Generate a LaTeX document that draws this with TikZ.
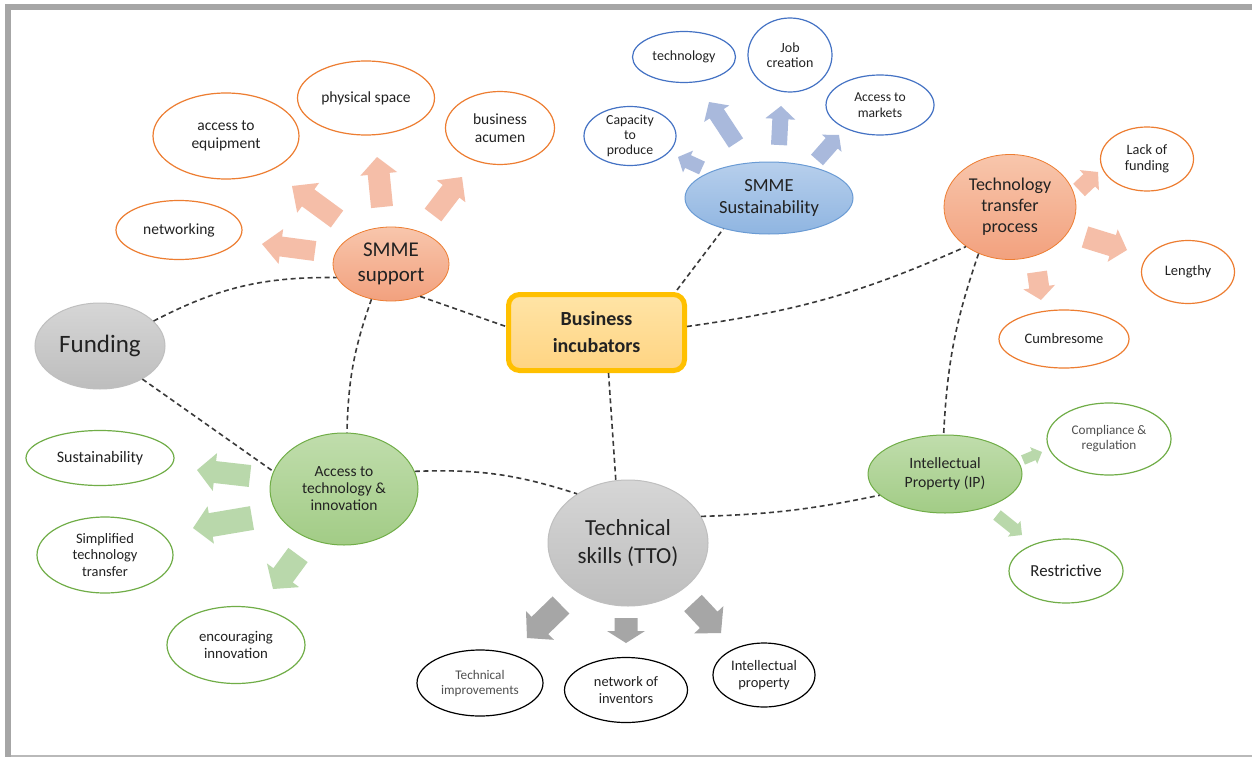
\documentclass[tikz,border=0pt]{standalone}
\usepackage{fontspec}
\setmainfont{Carlito}
\usetikzlibrary{shapes.geometric,calc}

\definecolor{txt}{HTML}{222222}
\definecolor{txtgray}{HTML}{505050}
\definecolor{dashc}{HTML}{3A3A3A}
\definecolor{framec}{HTML}{A6A6A6}
\definecolor{orn}{HTML}{ED7D31}
\definecolor{ornT}{HTML}{F8C6AC}
\definecolor{ornB}{HTML}{F2A17E}
\definecolor{ornarr}{HTML}{F5BEA8}
\definecolor{blu}{HTML}{4472C4}
\definecolor{bluB}{HTML}{6A9BD4}
\definecolor{bluFT}{HTML}{B7CFEC}
\definecolor{bluFB}{HTML}{8FB5E1}
\definecolor{bluarr}{HTML}{A9B9DC}
\definecolor{grn}{HTML}{70AD47}
\definecolor{grnT}{HTML}{C0DDAC}
\definecolor{grnB}{HTML}{A2CC86}
\definecolor{grnarr}{HTML}{B9D8AB}
\definecolor{gryB}{HTML}{BFBFBF}
\definecolor{gryT}{HTML}{D6D6D6}
\definecolor{gryF}{HTML}{BDBDBD}
\definecolor{gryarr}{HTML}{A6A6A6}
\definecolor{gold}{HTML}{FFC000}
\definecolor{goldT}{HTML}{FFE4A6}
\definecolor{goldB}{HTML}{FFD482}

\newcommand\fs[2]{\fontsize{#1pt}{#2pt}\selectfont}

% block arrow: name, colour, shaft half width, head half width, head length, tail, tip
\newcommand\blockarrow[7]{%
  \coordinate (#1-s) at (#6);
  \coordinate (#1-e) at (#7);
  \coordinate (#1-b) at ($(#1-e)!#5!(#1-s)$);
  \fill[#2] ($(#1-s)!#3!90:(#1-e)$) -- ($(#1-b)!#3!90:(#1-e)$) -- ($(#1-b)!#4!90:(#1-e)$)
    -- (#1-e) -- ($(#1-b)!#4!-90:(#1-e)$) -- ($(#1-b)!#3!-90:(#1-e)$)
    -- ($(#1-s)!#3!-90:(#1-e)$) -- cycle;}

\tikzset{
  base/.style={ellipse, inner sep=0pt, align=center, text=txt},
  oleaf/.style={base, draw=orn, line width=1.2pt, fill=white},
  bleaf/.style={base, draw=blu, line width=1.2pt, fill=white},
  gleaf/.style={base, draw=grn, line width=1.2pt, fill=white},
  kleaf/.style={base, draw=black, line width=1.2pt, fill=white},
  ohub/.style={base, draw=orn, line width=0.8pt, top color=ornT, bottom color=ornB},
  bhub/.style={base, draw=bluB, line width=1pt, top color=bluFT, bottom color=bluFB},
  ghub/.style={base, draw=grn, line width=1pt, top color=grnT, bottom color=grnB},
  khub/.style={base, draw=gryB, line width=1pt, top color=gryT, bottom color=gryF},
  conn/.style={draw=dashc, line width=1.6pt, dash pattern=on 5pt off 3.5pt},
}

\begin{document}
\begin{tikzpicture}[x=1pt, y=-1pt]
\useasboundingbox (0,0) rectangle (1252,757);
\fill[white] (0,0) rectangle (1252,757);

% frame
\fill[framec] (5,4) rectangle (1252,10);
\fill[framec] (5,4) rectangle (11,757);
\fill[gray!55] (11,754.5) rectangle (1252,757);

% ---------- nodes ----------
\node[rounded corners=11pt, draw=gold, line width=5pt, top color=goldT, bottom color=goldB,
      minimum width=176pt, minimum height=76pt, align=center, text=txt,
      font=\fs{20}{27}\bfseries] (bi) at (596.5,332.5) {Business\\incubators};

\node[ohub, minimum width=116pt, minimum height=74pt, font=\fs{21}{25}] (smme) at (391,264) {SMME\\support};
\node[oleaf, minimum width=126pt, minimum height=59pt, font=\fs{15.5}{18}] (net) at (179,230) {networking};
\node[oleaf, minimum width=146pt, minimum height=86pt, font=\fs{15.5}{18}] (equip) at (226,136) {access to\\equipment};
\node[oleaf, minimum width=137pt, minimum height=74pt, font=\fs{15.5}{18}] (space) at (366,98) {physical space};
\node[oleaf, minimum width=109pt, minimum height=73pt, font=\fs{15.5}{18}] (acumen) at (500,128) {business\\acumen};

\node[bhub, minimum width=168pt, minimum height=72pt, font=\fs{18.5}{22}] (sust) at (769,198) {SMME\\Sustainability};
\node[bleaf, minimum width=103pt, minimum height=51pt, font=\fs{14}{16}] (tech) at (684,57) {technology};
\node[bleaf, minimum width=84pt, minimum height=74pt, font=\fs{14}{15.5}] (job) at (790,55) {Job\\creation};
\node[bleaf, minimum width=108pt, minimum height=60pt, font=\fs{13.6}{15.5}] (mkt) at (880,105) {Access to\\markets};
\node[bleaf, minimum width=92pt, minimum height=58pt, font=\fs{13.8}{15}] (cap) at (630,136) {Capacity\\to\\produce};

\node[ohub, minimum width=132pt, minimum height=105pt, font=\fs{18}{21}] (ttp) at (1010,207) {Technology\\transfer\\process};
\node[oleaf, minimum width=93pt, minimum height=64pt, font=\fs{14.3}{16.5}] (lack) at (1147,159) {Lack of\\funding};
\node[oleaf, minimum width=93pt, minimum height=63pt, font=\fs{14.5}{17}] (lengthy) at (1188,272) {Lengthy};
\node[oleaf, minimum width=130pt, minimum height=58pt, font=\fs{14.5}{17}] (cumb) at (1064,339) {Cumbresome};

\node[khub, minimum width=160pt, minimum height=126pt, font=\fs{23}{28}] (ts) at (628,543) {Technical\\skills (TTO)};
\node[kleaf, minimum width=126pt, minimum height=66pt, font=\fs{13.2}{15}, text=txtgray] (timp) at (480,683) {Technical\\improvements};
\node[kleaf, minimum width=123pt, minimum height=65pt, font=\fs{14.4}{17}] (inv) at (626,690) {network of\\inventors};
\node[kleaf, minimum width=102pt, minimum height=64pt, font=\fs{14.5}{17}] (ipr) at (764,675) {Intellectual\\property};

\node[khub, minimum width=130pt, minimum height=86pt, font=\fs{25}{30}] (fund) at (100,346) {Funding};

\node[ghub, minimum width=148pt, minimum height=112pt, font=\fs{15.5}{17}] (acc) at (344,489) {Access to\\technology \&\\innovation};
\node[gleaf, minimum width=148pt, minimum height=55pt, font=\fs{16}{18}] (gsust) at (100,458) {Sustainability};
\node[gleaf, minimum width=136pt, minimum height=76pt, font=\fs{14.4}{16.5}] (simp) at (105,555) {Simplified\\technology\\transfer};
\node[gleaf, minimum width=138pt, minimum height=77pt, font=\fs{14.8}{17}] (enc) at (236,645) {encouraging\\innovation};

\node[ghub, minimum width=154pt, minimum height=78pt, font=\fs{15.7}{18.5}] (ip) at (945,474) {Intellectual\\Property (IP)};
\node[gleaf, minimum width=124pt, minimum height=72pt, font=\fs{13.2}{15}, text=txtgray] (comp) at (1109,439) {Compliance \&\\regulation};
\node[gleaf, minimum width=114pt, minimum height=64pt, font=\fs{16.8}{19}] (restr) at (1066,571) {Restrictive};

% ---------- block arrows ----------
\blockarrow{a1}{ornarr}{10pt}{17.5pt}{19pt}{315,251}{262,244}
\blockarrow{a2}{ornarr}{10.5pt}{18.5pt}{20pt}{337,219}{292,186}
\blockarrow{a3}{ornarr}{11pt}{18.5pt}{17pt}{382,207}{377,157}
\blockarrow{a4}{ornarr}{10.5pt}{18pt}{18pt}{433,215}{462,177}

\blockarrow{b1}{bluarr}{7pt}{12pt}{11pt}{702,168}{678,157}
\blockarrow{b2}{bluarr}{8.5pt}{15pt}{14pt}{736,143}{709,102}
\blockarrow{b3}{bluarr}{8pt}{15pt}{13pt}{779,145}{781,106}
\blockarrow{b4}{bluarr}{8pt}{13pt}{11pt}{817,160}{839,135}

\blockarrow{c1}{ornarr}{8.5pt}{14pt}{12pt}{1079,190}{1098,172}
\blockarrow{c2}{ornarr}{11pt}{17pt}{15pt}{1085,237}{1127,250}
\blockarrow{c3}{ornarr}{10pt}{16pt}{13pt}{1037,272}{1041,300}

\blockarrow{d1}{grnarr}{11pt}{19pt}{18pt}{250,476}{197,470}
\blockarrow{d2}{grnarr}{12pt}{19pt}{18pt}{252,518}{193,528}
\blockarrow{d3}{grnarr}{12pt}{20pt}{17pt}{298,555}{273,589}

\blockarrow{e1}{gryarr}{12pt}{20pt}{18pt}{561,605}{527,638}
\blockarrow{e2}{gryarr}{11.5pt}{19pt}{12pt}{626,618}{626,643}
\blockarrow{e3}{gryarr}{12pt}{20pt}{18pt}{693,603}{721,633}

\blockarrow{f1}{grnarr}{5pt}{9pt}{9pt}{1023,460}{1042,452}
\blockarrow{f2}{grnarr}{6pt}{10pt}{10pt}{997,515}{1022,535}

% ---------- dashed links ----------
\draw[conn] (fund.25) to[bend left=14] (smme.194);
\draw[conn] (smme.-48) -- ([yshift=6pt]bi.west);
\draw[conn] (smme.241) to[bend right=9] (acc.87);
\draw[conn] (fund.-38) -- (acc.166);
\draw[conn] (acc.14) to[bend left=10] (ts.136);
\draw[conn] ([xshift=12pt]bi.south) -- (ts.101);
\draw[conn] ([xshift=-10pt,yshift=2pt]bi.north east) -- (sust.214);
\draw[conn] ([yshift=6pt]bi.east) to[bend right=8] (ttp.222);
\draw[conn] (ttp.236) to[bend right=8] (ip.92);
\draw[conn] (ts.20) to[bend right=5] (ip.198);
\end{tikzpicture}
\end{document}
